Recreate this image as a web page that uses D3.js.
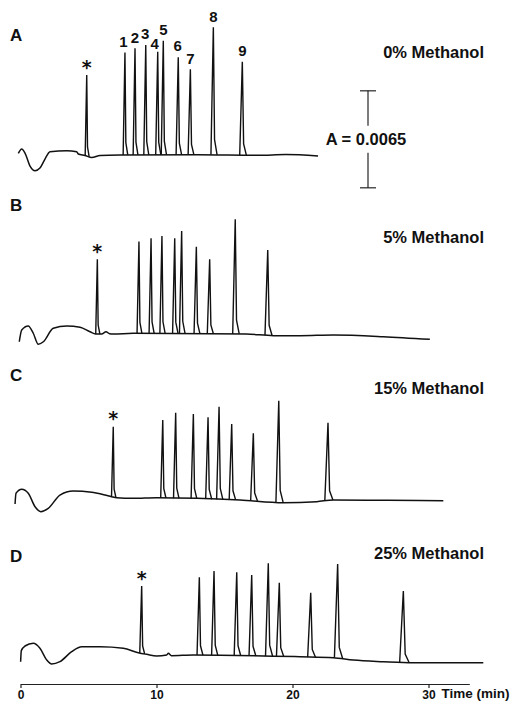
<!DOCTYPE html>
<html>
<head>
<meta charset="utf-8">
<script src="https://cdn.jsdelivr.net/npm/d3@7"></script>
<style>
  html, body { margin: 0; padding: 0; background: #fff; }
  svg { display: block; }
</style>
</head>
<body>
<svg id="chart" width="512" height="701"></svg>
<script>
// ---- Data -------------------------------------------------------------
const peakNames = ["*", "1", "2", "3", "4", "5", "6", "7", "8", "9"];
const panelLetters = ["A", "B", "C", "D"];
const methanolLabels = ["0% Methanol", "5% Methanol", "15% Methanol", "25% Methanol"];
const timeTicks = [0, 10, 20, 30];
const scaleBarMAU = 6.5;            // A = 0.0065
const scaleBarText = "A = 0.0065";

// retention times (min) and apex absorbance (mAU above the trace's zero)
const timesA = [4.87, 7.68, 8.42, 9.21, 10.09, 10.50, 11.60, 12.49, 14.18, 16.31];
const apexA  = [5.36, 6.86, 7.15, 7.37, 6.92, 7.66, 6.55, 5.74, 8.56, 6.25];
const timesB = [5.65, 8.71, 9.60, 10.40, 11.34, 11.85, 12.93, 13.91, 15.79, 18.18];
const apexB  = [5.01, 6.19, 6.41, 6.57, 6.41, 6.90, 5.85, 5.01, 7.69, 5.63];
const timesC = [6.82, 10.46, 11.41, 12.71, 13.79, 14.60, 15.53, 17.12, 18.99, 22.61];
const apexC  = [4.81, 5.26, 5.75, 5.66, 5.44, 6.15, 4.99, 4.37, 6.55, 5.08];
const timesD = [8.91, 13.15, 14.23, 15.90, 17.00, 18.22, 19.03, 21.34, 23.32, 28.15];
const apexD  = [4.69, 5.27, 5.70, 5.61, 5.43, 6.21, 4.91, 4.24, 6.17, 4.36];

// baseline drift, [time (min), mAU]
const baseA = [[-0.16, 0.11], [0.09, 0.40], [0.33, 0.13], [0.70, -0.74], [1.07, -1.05],
  [1.43, -0.87], [1.80, -0.27], [2.17, 0.22], [3.40, 0.29], [4.13, 0.22], [4.25, 0.07],
  [4.74, -0.03], [5.24, -0.17], [5.85, -0.03], [7.30, 0.00], [13.0, 0.02], [17.5, -0.02],
  [19.5, 0.03], [21.88, -0.07]];
const baseB = [[-0.09, -0.52], [0.09, 0.27], [0.57, 0.54], [0.94, 0.05], [1.31, -0.69],
  [1.68, -0.52], [2.41, 0.38], [3.40, 0.54], [4.38, 0.45], [5.11, 0.15], [5.53, 0.00],
  [5.97, 0.00], [6.29, 0.15], [6.55, 0.02], [6.82, 0.00], [8.29, 0.05], [16.6, 0.00],
  [18.6, -0.11], [20.55, -0.11], [23.0, -0.07], [26.68, -0.18], [30.1, -0.36]];
const baseC = [[-0.40, -0.37], [-0.33, 0.35], [0.09, 0.62], [0.57, 0.35], [1.07, -0.55],
  [1.49, -0.88], [2.04, -0.66], [2.90, 0.23], [3.88, 0.50], [5.24, 0.42], [6.21, 0.23],
  [6.70, 0.12], [7.07, 0.05], [8.29, 0.01], [10.0, 0.05], [16.14, -0.10], [19.32, -0.28],
  [21.78, -0.21], [23.0, -0.10], [27.0, -0.12], [31.09, -0.15]];
const baseD = [[0.01, -0.38], [0.06, 0.36], [0.33, 0.67], [0.94, 0.85], [1.43, 0.52],
  [1.93, -0.27], [2.29, -0.54], [2.90, -0.38], [3.76, 0.29], [4.50, 0.62], [5.85, 0.62],
  [7.56, 0.52], [8.66, 0.22], [9.28, 0.11], [10.01, 0.00], [10.75, 0.07], [10.87, 0.18],
  [11.10, 0.02], [12.70, 0.07], [20.55, -0.05], [23.0, -0.11], [24.47, -0.27],
  [26.68, -0.38], [28.88, -0.45], [31.58, -0.45], [34.03, -0.45]];

// ---- Layout -----------------------------------------------------------
const FONT = "'Liberation Sans', Arial, Helvetica, sans-serif";
const panels = [
  { letter: panelLetters[0], label: methanolLabels[0], times: timesA, apex: apexA, base: baseA,
    zeroY: 155, letterY: 35, labelY: 52, numbered: true },
  { letter: panelLetters[1], label: methanolLabels[1], times: timesB, apex: apexB, base: baseB,
    zeroY: 334, letterY: 205, labelY: 237, numbered: false },
  { letter: panelLetters[2], label: methanolLabels[2], times: timesC, apex: apexC, base: baseC,
    zeroY: 498.5, letterY: 375, labelY: 388, numbered: false },
  { letter: panelLetters[3], label: methanolLabels[3], times: timesD, apex: apexD, base: baseD,
    zeroY: 656, letterY: 556, labelY: 553, numbered: false }
];
// small horizontal / vertical nudges for crowded peak numbers in trace A
const numberNudge = { "1": [-1.5, 0], "3": [-0.5, 0], "4": [-3, 2.5], "6": [-0.5, -1] };

const svg = d3.select("#chart");

const x = d3.scaleLinear().domain([0, 33]).range([20.5, 469.3]);
// shared absorbance scale, relative to each trace's zero line
const y = d3.scaleLinear().domain([0, scaleBarMAU]).range([0, -97]);

const baselineLine = d3.line()
  .x(d => x(d[0]))
  .y(d => y(d[1]))
  .curve(d3.curveMonotoneX);
const peakLine = d3.line()
  .x(d => x(d[0]))
  .y(d => y(d[1]));

function baseAt(base, t) {
  const i = d3.bisector(d => d[0]).right(base, t);
  if (i <= 0) return base[0][1];
  if (i >= base.length) return base[base.length - 1][1];
  const a = base[i - 1], b = base[i];
  return a[1] + (b[1] - a[1]) * (t - a[0]) / (b[0] - a[0]);
}

panels.forEach(p => {
  const g = svg.append("g").attr("transform", `translate(0,${p.zeroY})`);

  // baseline drift
  g.append("path")
    .attr("d", baselineLine(p.base))
    .attr("fill", "none")
    .attr("stroke", "#111")
    .attr("stroke-width", 1.5)
    .attr("stroke-linejoin", "round");

  // peaks
  p.times.forEach((t, i) => {
    const hw = 0.09 + 0.0075 * t;
    const b0 = baseAt(p.base, t - 0.9 * hw);
    const b1 = baseAt(p.base, t + 1.4 * hw);
    const pts = [
      [t - 0.9 * hw, b0],
      [t, p.apex[i]],
      [t + 0.45 * hw, b1 + (p.apex[i] - b1) * 0.12],
      [t + 1.4 * hw, b1]
    ];
    g.append("path")
      .attr("d", peakLine(pts))
      .attr("fill", "none")
      .attr("stroke", "#111")
      .attr("stroke-width", 1.4);
  });

  // peak labels
  p.times.forEach((t, i) => {
    const name = peakNames[i];
    if (name === "*") {
      g.append("text")
        .attr("x", x(t))
        .attr("y", y(p.apex[i]) - 12 + 10.5)
        .attr("text-anchor", "middle")
        .attr("font-family", "'DejaVu Sans', sans-serif")
        .attr("font-weight", "bold")
        .attr("font-size", 19)
        .attr("fill", "#111")
        .text(name);
    } else if (p.numbered) {
      const n = numberNudge[name] || [0, 0];
      g.append("text")
        .attr("x", x(t) + n[0])
        .attr("y", y(p.apex[i]) - 11 + 5.4 + n[1])
        .attr("text-anchor", "middle")
        .attr("font-family", FONT)
        .attr("font-weight", "bold")
        .attr("font-size", 15)
        .attr("fill", "#111")
        .text(name);
    }
  });

  // panel letter
  svg.append("text")
    .attr("x", 10)
    .attr("y", p.letterY + 6)
    .attr("font-family", FONT)
    .attr("font-weight", "bold")
    .attr("font-size", 17)
    .attr("fill", "#111")
    .text(p.letter);

  // methanol content
  svg.append("text")
    .attr("x", 484)
    .attr("y", p.labelY + 6)
    .attr("text-anchor", "end")
    .attr("font-family", FONT)
    .attr("font-weight", "bold")
    .attr("font-size", 16.5)
    .attr("fill", "#111")
    .text(p.label);
});

// absorbance scale bar, drawn with trace A's scale
{
  const g = svg.append("g").attr("transform", `translate(0,${panels[0].zeroY})`);
  const bx = 368;
  const v0 = -2.2, v1 = v0 + scaleBarMAU;
  const yMid = (y(v0) + y(v1)) / 2;
  const gap = 13.5;
  const seg = (x1, y1, x2, y2) => g.append("line")
    .attr("x1", x1).attr("y1", y1).attr("x2", x2).attr("y2", y2)
    .attr("stroke", "#111").attr("stroke-width", 1.1);
  seg(bx, y(v1), bx, yMid - gap);
  seg(bx, yMid + gap, bx, y(v0));
  seg(bx - 8, y(v1), bx + 8, y(v1));
  seg(bx - 8, y(v0), bx + 8, y(v0));
  g.append("text")
    .attr("x", 366)
    .attr("y", yMid + 6)
    .attr("text-anchor", "middle")
    .attr("font-family", FONT)
    .attr("font-weight", "bold")
    .attr("font-size", 16.5)
    .attr("fill", "#111")
    .text(scaleBarText);
}

// time axis
const axisG = svg.append("g")
  .attr("transform", "translate(0,684)")
  .call(d3.axisBottom(x).tickValues(timeTicks).tickSize(4).tickSizeOuter(0).tickPadding(2));
axisG.select(".domain").attr("stroke", "#222").attr("stroke-width", 1.2);
axisG.selectAll(".tick line").attr("stroke", "#222").attr("stroke-width", 1.2);
axisG.selectAll(".tick text")
  .attr("font-family", FONT)
  .attr("font-weight", "bold")
  .attr("font-size", 12)
  .attr("fill", "#111");

svg.append("text")
  .attr("x", 441.5)
  .attr("y", 698)
  .attr("font-family", FONT)
  .attr("font-weight", "bold")
  .attr("font-size", 13.5)
  .attr("fill", "#111")
  .text("Time (min)");
</script>
</body>
</html>
